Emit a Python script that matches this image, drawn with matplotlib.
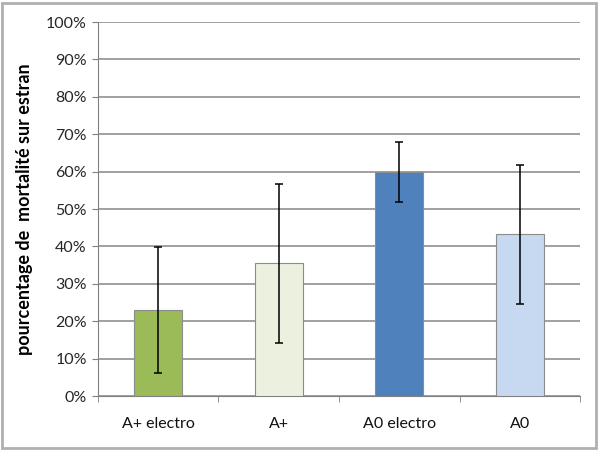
import matplotlib
matplotlib.use("Agg")
import matplotlib.pyplot as plt
from matplotlib.patches import Rectangle
import numpy as np

categories = ["A+ electro", "A+", "A0 electro", "A0"]
means = [23.0, 35.5, 59.9, 43.2]
errors = [16.8, 21.2, 8.1, 18.6]
colors = ["#9BBB59", "#EBF1DE", "#4F81BD", "#C6D9F1"]
yticks = [0, 10, 20, 30, 40, 50, 60, 70, 80, 90, 100]
ylabel = "pourcentage de  mortalité sur estran"

plt.rcParams['font.family'] = ['Lato', 'DejaVu Sans']

fig = plt.figure(figsize=(6, 4.5), dpi=100)
ax = fig.add_axes([0.163, 0.12, 0.804, 0.831])
x = np.arange(len(categories))
ax.bar(x, means, width=0.4, color=colors, edgecolor="#8c8c8c", linewidth=0.8, zorder=3)
ax.errorbar(x, means, yerr=errors, fmt="none", ecolor="black", elinewidth=1.1,
            capsize=3, capthick=1.1, zorder=4)

ax.set_xlim(-0.5, len(categories) - 0.5)
ax.set_ylim(0, 100)
ax.set_yticks(yticks)
ax.set_yticklabels([f"{t}%" for t in yticks], fontsize=11.5, color="#262626")
ax.set_xticks(x)
ax.set_xticklabels(categories, fontsize=11.5, color="#111111")
ax.tick_params(axis='x', length=0, pad=15)
ax.set_xticks(np.arange(-0.5, len(categories)), minor=True)
ax.tick_params(axis='x', which='minor', length=4, color="#808080", direction='out')
ax.tick_params(axis='y', length=4, color="#808080", direction='out', pad=4)
ax.yaxis.grid(True, color="#868686", linewidth=1.1, zorder=0)
ax.set_axisbelow(True)
for s in ["top", "right"]:
    ax.spines[s].set_visible(False)
for s in ["left", "bottom"]:
    ax.spines[s].set_color("#808080")
ax.set_ylabel(ylabel, fontsize=13, fontweight='bold', labelpad=9)

fig.patches.append(Rectangle((0.003, 0.004), 0.99, 0.99, transform=fig.transFigure,
                             fill=False, edgecolor="#b0b0b0", linewidth=2))
fig.savefig("out.png", dpi=100)
